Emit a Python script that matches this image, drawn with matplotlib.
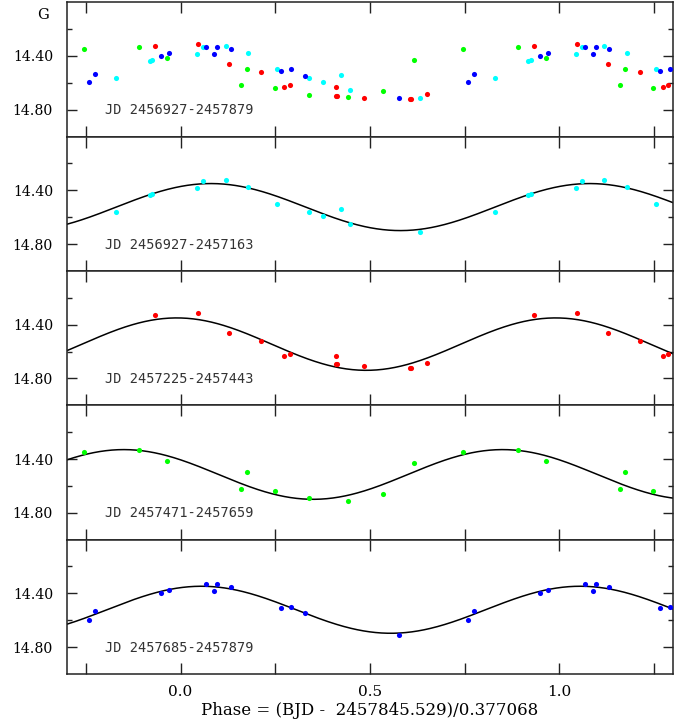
import numpy as np
import matplotlib
matplotlib.use("Agg")
import matplotlib.pyplot as plt
from matplotlib.ticker import FixedLocator

# phases (folded into 0..1) and G magnitudes
cyan_phase = [0.044, 0.060, 0.119, 0.178, 0.255, 0.338, 0.375, 0.423, 0.447, 0.632, 0.829, 0.918, 0.924]
cyan_mag = [14.383, 14.331, 14.324, 14.378, 14.501, 14.561, 14.593, 14.541, 14.652, 14.713, 14.561, 14.437, 14.430]

red_phase = [0.047, 0.128, 0.212, 0.274, 0.288, 0.410, 0.410, 0.414, 0.484, 0.605, 0.608, 0.651, 0.932]
red_mag = [14.314, 14.462, 14.519, 14.632, 14.617, 14.632, 14.696, 14.696, 14.711, 14.724, 14.721, 14.684, 14.326]

green_phase = [0.160, 0.174, 0.248, 0.339, 0.443, 0.535, 0.615, 0.746, 0.891, 0.964]
green_mag = [14.620, 14.494, 14.637, 14.691, 14.709, 14.662, 14.430, 14.346, 14.333, 14.415]

blue_phase = [0.068, 0.089, 0.097, 0.132, 0.265, 0.291, 0.329, 0.577, 0.758, 0.774, 0.949, 0.970]
blue_mag = [14.333, 14.383, 14.333, 14.351, 14.509, 14.501, 14.548, 14.711, 14.595, 14.533, 14.398, 14.378]

# sine fits: mean mag, semi-amplitude, phase of maximum light
fit_mean = [14.525, 14.545, 14.515, 14.522]
fit_amp = [0.175, 0.195, 0.185, 0.175]
fit_peak = [0.08, -0.01, -0.15, 0.055]

labels = ["JD 2456927-2457879", "JD 2456927-2457163", "JD 2457225-2457443",
          "JD 2457471-2457659", "JD 2457685-2457879"]
colors = ["#00ffff", "#ff0000", "#00ff00", "#0000ff"]
sets = [(cyan_phase, cyan_mag), (red_phase, red_mag),
        (green_phase, green_mag), (blue_phase, blue_mag)]

serif = "DejaVu Serif"
fig = plt.figure(figsize=(6.89, 7.22), dpi=100)
gs = fig.add_gridspec(5, 1, left=0.0972, right=0.9768, bottom=0.0665, top=0.997, hspace=0)
axes = [fig.add_subplot(gs[i]) for i in range(5)]


def plot_points(ax, ph, mg, col):
    ph = np.asarray(ph)
    for shift in (-1, 0, 1):
        ax.plot(ph + shift, mg, "o", color=col, ms=3.7, mew=0, zorder=3)


xs = np.linspace(-0.3, 1.3, 500)
for i, ax in enumerate(axes):
    if i == 0:
        for (ph, mg), col in zip(sets, colors):
            plot_points(ax, ph, mg, col)
    else:
        ph, mg = sets[i - 1]
        plot_points(ax, ph, mg, colors[i - 1])
        model = fit_mean[i - 1] - fit_amp[i - 1] * np.cos(2 * np.pi * (xs - fit_peak[i - 1]))
        ax.plot(xs, model, color="black", lw=1.1, zorder=2)

    ax.set_xlim(-0.3, 1.3)
    ax.set_ylim(15.0, 14.0)
    ax.xaxis.set_major_locator(FixedLocator([0.0, 0.5, 1.0]))
    ax.xaxis.set_minor_locator(FixedLocator([-0.25, 0.25, 0.75, 1.25]))
    ax.yaxis.set_major_locator(FixedLocator([14.4, 14.8]))
    ax.yaxis.set_minor_locator(FixedLocator([14.2, 14.6]))
    ax.tick_params(axis="both", which="both", direction="in", top=True, right=True,
                   width=1.0, color="#222222")
    ax.tick_params(axis="x", which="both", length=8)
    ax.tick_params(axis="y", which="major", length=7)
    ax.tick_params(axis="y", which="minor", length=3.5)
    ax.tick_params(axis="y", labelsize=10.2, pad=10)
    ax.tick_params(axis="x", labelsize=11, pad=8)
    ax.set_yticklabels(["14.40", "14.80"], family=serif)
    for sp in ax.spines.values():
        sp.set_linewidth(1.1)
        sp.set_color("#222222")
    if i < 4:
        ax.tick_params(axis="x", labelbottom=False)
    else:
        ax.set_xticklabels(["0.0", "0.5", "1.0"], family=serif)
    ax.text(0.063, 0.196, labels[i], transform=ax.transAxes, family="DejaVu Sans Mono",
            fontsize=9.8, color="#333333", va="center", ha="left")

axes[4].set_xlabel("Phase = (BJD -  2457845.529)/0.377068", family=serif, fontsize=12,
                   labelpad=2)
fig.text(43 / 689, 1 - 15 / 722, "G", family=serif, fontsize=10.5, ha="center", va="center")

fig.savefig("out.png", dpi=100)
